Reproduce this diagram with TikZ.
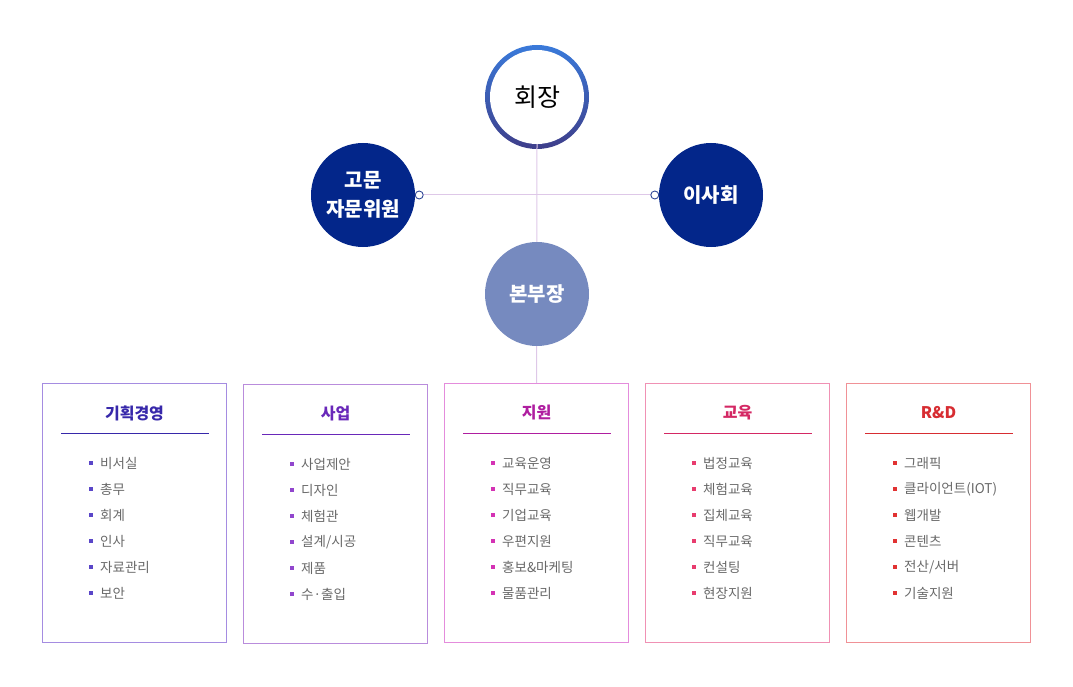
\documentclass[tikz,border=0pt]{standalone}
\usepackage{fontspec}
\newfontfamily\kr{Noto Sans CJK KR}
\usetikzlibrary{backgrounds,calc}
\definecolor{navy}{RGB}{3,38,138}
\definecolor{hq}{RGB}{118,138,191}
\definecolor{ringtop}{RGB}{58,122,218}
\definecolor{ringbot}{RGB}{62,62,138}
\definecolor{link}{RGB}{222,200,232}
\definecolor{dotc}{RGB}{47,70,150}
\definecolor{itemc}{RGB}{105,105,105}
\definecolor{ca}{RGB}{165,140,225}
\definecolor{cb}{RGB}{185,140,220}
\definecolor{cc}{RGB}{228,140,220}
\definecolor{cd}{RGB}{240,145,180}
\definecolor{ce}{RGB}{240,145,150}
\definecolor{ta}{RGB}{55,40,170}
\definecolor{tb}{RGB}{105,40,185}
\definecolor{tc}{RGB}{175,30,160}
\definecolor{td}{RGB}{212,40,100}
\definecolor{te}{RGB}{215,45,50}
\definecolor{ba}{RGB}{90,70,200}
\definecolor{bb}{RGB}{145,70,205}
\definecolor{bc}{RGB}{212,50,180}
\definecolor{bd}{RGB}{232,60,110}
\definecolor{be}{RGB}{225,50,50}
\tikzset{
  bigcirc/.style={circle, inner sep=0pt, minimum size=104pt, text=white, align=center,
    font=\kr\bfseries\fontsize{20}{29}\selectfont},
  deptbox/.style={draw=#1, line width=1pt, minimum width=184pt, minimum height=259pt,
    anchor=north west, inner sep=0pt},
  depttitle/.style={text=#1, font=\kr\bfseries\fontsize{16}{18}\selectfont, inner sep=0pt},
  itemtext/.style={text=itemc, anchor=west, inner sep=0pt, font=\kr\fontsize{13.5}{15}\selectfont},
  enddot/.style={draw=dotc, fill=white, line width=0.9pt},
  linkline/.style={draw=link, line width=1pt}
}
\begin{document}
\begin{tikzpicture}[x=1pt,y=-1pt]
\useasboundingbox (0,0) rectangle (1073,687);

% top circles
\node[circle, fill=white, inner sep=0pt, minimum size=94pt,
  font=\kr\fontsize{25}{28}\selectfont] (ceo) at (537,97) {회장};
\node[bigcirc, fill=navy] (adv) at (363,195) {고문\\자문위원};
\node[bigcirc, fill=navy] (board) at (711,195) {이사회};
\node[bigcirc, fill=hq] (hq) at (537,294) {본부장};

% departments
\foreach \i/\lx/\ly/\bc/\tc/\dc/\ttl/\items in {
  1/42/383/ca/ta/ba/기획경영/{비서실,총무,회계,인사,자료관리,보안},
  2/243/384/cb/tb/bb/사업/{사업제안,디자인,체험관,설계/시공,제품,수·출입},
  3/444/383/cc/tc/bc/지원/{교육운영,직무교육,기업교육,우편지원,홍보\&마케팅,물품관리},
  4/645/383/cd/td/bd/교육/{법정교육,체험교육,집체교육,직무교육,컨설팅,현장지원},
  5/846/383/ce/te/be/R\&D/{그래픽,클라이언트(IOT),웹개발,콘텐츠,전산/서버,기술지원}}{
  \node[deptbox=\bc] (box\i) at (\lx,\ly) {};
  \node[depttitle=\tc] (title\i) at ($(box\i.north)+(0,30)$) {\ttl};
  \draw[\tc, line width=1pt] ($(box\i.north west)+(19,50)$) -- ($(box\i.north east)+(-18,50)$);
  \foreach \it [count=\k] in \items {
    \fill[\dc] ($(box\i.north west)+(47,52+26*\k)$) rectangle ++(4,4);
    \node[itemtext] (item\i-\k) at ($(box\i.north west)+(58,54+26*\k)$) {\it};
  }
}

\coordinate (hl) at ($(adv.east)+(4,0)$);
\coordinate (hr) at ($(board.west)+(-4,0)$);

\begin{scope}[on background layer]
  \shade[top color=ringtop, bottom color=ringbot] (ceo.center) circle (52pt);
  \draw[linkline] (ceo.south) -- (box3.north);
  \draw[linkline] (hl) -- (hr);
\end{scope}
\draw[enddot] (hl) circle (4pt);
\draw[enddot] (hr) circle (4pt);
\end{tikzpicture}
\end{document}
